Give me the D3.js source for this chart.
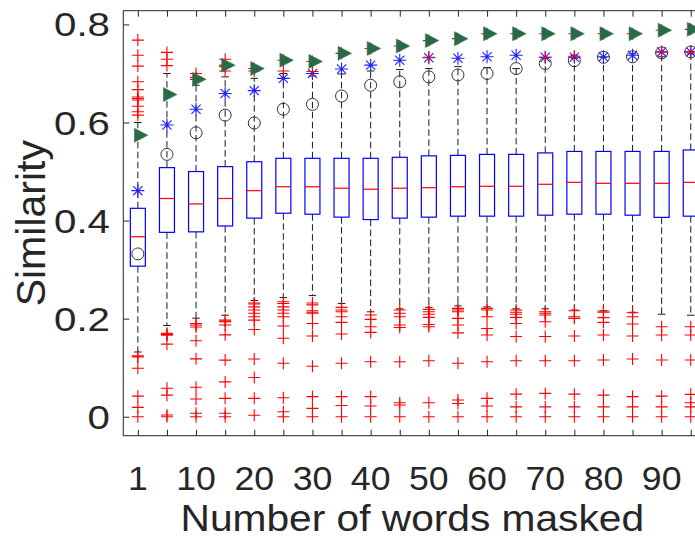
<!DOCTYPE html>
<html>
<head>
<meta charset="utf-8">
<script src="https://cdn.jsdelivr.net/npm/d3@7/dist/d3.min.js"></script>
<style>
  html, body { margin: 0; padding: 0; background: #fff; overflow: hidden; }
  svg { display: block; }
  text { font-family: "Liberation Sans", Arial, Helvetica, sans-serif; fill: #262626; }
</style>
</head>
<body>
<svg id="chart" width="695" height="539"></svg>
<script>
// Number of masked words per group
const groups = ["1","5","10","15","20","25","30","35","40","45","50","55","60","65","70","75","80","85","90","95"];
const tickLabels = ["1","10","20","30","40","50","60","70","80","90"];
const yTicks = [0, 0.2, 0.4, 0.6, 0.8];

// Box statistics per group
const q3  = [0.425,0.508,0.500,0.510,0.520,0.527,0.527,0.527,0.527,0.529,0.532,0.533,0.535,0.535,0.538,0.541,0.541,0.541,0.541,0.544];
const med = [0.367,0.445,0.434,0.445,0.461,0.469,0.469,0.466,0.464,0.466,0.467,0.469,0.470,0.470,0.474,0.478,0.476,0.476,0.476,0.478];
const q1  = [0.307,0.376,0.377,0.389,0.405,0.415,0.413,0.407,0.402,0.405,0.407,0.409,0.409,0.409,0.411,0.413,0.413,0.411,0.4065,0.409];
const whiskerLow  = [0.132,0.186,0.201,0.207,0.237,0.243,0.247,0.231,0.214,0.220,0.223,0.226,0.224,0.220,0.220,0.2175,0.216,0.213,0.209,0.207];
const whiskerHigh = [0.600,0.700,0.676,0.693,0.690,0.700,0.695,0.699,0.705,0.708,0.710,0.714,0.712,0.710,0.731,0.731,0.733,0.740,0.734,0.740];

// Outliers above the upper whisker
const outliersHigh = [
  [0.768,0.737,0.715,0.683,0.667,0.652,0.649,0.646,0.633,0.622,0.615],
  [0.743,0.729,0.716],
  [0.700,0.692,0.688],
  [0.729,0.714,0.705,0.717],
  [0.705,0.710],
  [0.705,0.727],
  [0.704,0.7245],
  [0.741],
  [0.751],
  [0.756],
  [0.733,0.767],
  [0.771],
  [0.781],
  [0.781],
  [0.733,0.781],
  [0.735,0.781],
  [0.781],
  [0.781],
  [0.744,0.788],
  [0.744,0.790]
];

// Outliers below the lower whisker
const outliersLow = [
  [0.124,0.122,0.099,0.042,0.019,0.0],
  [0.170,0.168,0.166,0.148,0.058,0.044,0.0035,0.0],
  [0.190,0.187,0.183,0.155,0.118,0.060,0.036,0.007,0.0],
  [0.197,0.194,0.187,0.167,0.1155,0.071,0.0375,0.007,0.0],
  [0.232,0.230,0.224,0.2175,0.211,0.204,0.197,0.178,0.1176,0.080,0.0375,0.003],
  [0.2345,0.231,0.224,0.2175,0.211,0.204,0.185,0.160,0.109,0.0387,0.010,0.0],
  [0.232,0.228,0.216,0.213,0.211,0.190,0.1645,0.103,0.041,0.017,0.0],
  [0.223,0.2175,0.214,0.204,0.1925,0.1686,0.109,0.041,0.023,0.0],
  [0.2073,0.1986,0.1835,0.172,0.112,0.041,0.022,0.0],
  [0.2175,0.211,0.204,0.187,0.182,0.112,0.0285,0.024,0.0],
  [0.219,0.214,0.209,0.2027,0.188,0.1835,0.114,0.0285,0.0],
  [0.221,0.2175,0.214,0.2006,0.187,0.171,0.109,0.034,0.027,0.0],
  [0.221,0.2175,0.204,0.180,0.1666,0.112,0.0375,0.022,0.0],
  [0.2175,0.213,0.209,0.2027,0.190,0.1635,0.114,0.046,0.020,0.0],
  [0.214,0.211,0.2073,0.1937,0.1635,0.114,0.0476,0.020,0.0],
  [0.216,0.204,0.2006,0.1645,0.114,0.046,0.020,0.0],
  [0.2155,0.213,0.202,0.1925,0.1666,0.1156,0.044,0.020,0.0],
  [0.212,0.204,0.189,0.1645,0.1176,0.041,0.020,0.0],
  [0.1835,0.1666,0.1156,0.042,0.020,0.0],
  [0.1835,0.1666,0.1156,0.0456,0.0285,0.020,0.0]
];

// Reference markers per group
const circleVals   = [0.332,0.535,0.579,0.615,0.599,0.627,0.637,0.654,0.676,0.683,0.693,0.697,0.700,0.710,0.7205,0.726,0.733,0.734,0.742,0.744];
const asteriskVals = [0.461,0.595,0.627,0.659,0.665,0.690,0.700,0.709,0.717,0.727,0.732,0.731,0.734,0.737,0.733,0.733,0.734,0.737,0.744,0.744];
const triangleVals = [0.574,0.657,0.688,0.717,0.710,0.727,0.7245,0.741,0.751,0.756,0.767,0.771,0.781,0.781,0.781,0.781,0.781,0.781,0.788,0.790];

const svg = d3.select("#chart");
const plot = { left: 123.3, right: 705.3, top: 10.7, bottom: 435.7 };

const x = d3.scaleLinear().domain([0.5, groups.length + 0.5]).range([plot.left, plot.right]);
const y = d3.scaleLinear().domain([-0.0387, 0.828]).range([plot.bottom, plot.top]);
const gx = i => x(i + 1);

const boxW = 15, capW = 7.5, mk = 6;
const axisColor = "#262626";

const data = groups.map((g, i) => ({
  i, g, q1: q1[i], med: med[i], q3: q3[i],
  lo: whiskerLow[i], hi: whiskerHigh[i],
  outs: outliersHigh[i].concat(outliersLow[i]),
  circle: circleVals[i], star: asteriskVals[i], tri: triangleVals[i]
}));

const g = svg.append("g");

// Whiskers (dashed) and caps
const wh = g.append("g").attr("stroke", "#1a1a1a").attr("stroke-width", 1).attr("fill", "none");
data.forEach(d => {
  wh.append("line").attr("x1", gx(d.i)).attr("x2", gx(d.i)).attr("y1", y(d.q3)).attr("y2", y(d.hi))
    .attr("stroke-dasharray", "6.5,3.5");
  wh.append("line").attr("x1", gx(d.i)).attr("x2", gx(d.i)).attr("y1", y(d.q1)).attr("y2", y(d.lo))
    .attr("stroke-dasharray", "6.5,3.5");
  wh.append("line").attr("x1", gx(d.i) - capW / 2).attr("x2", gx(d.i) + capW / 2).attr("y1", y(d.hi)).attr("y2", y(d.hi));
  wh.append("line").attr("x1", gx(d.i) - capW / 2).attr("x2", gx(d.i) + capW / 2).attr("y1", y(d.lo)).attr("y2", y(d.lo));
});

// Boxes
g.append("g").selectAll("rect").data(data).join("rect")
  .attr("x", d => gx(d.i) - boxW / 2)
  .attr("y", d => y(d.q3))
  .attr("width", boxW)
  .attr("height", d => y(d.q1) - y(d.q3))
  .attr("fill", "none").attr("stroke", "#0000ff").attr("stroke-width", 1.2);

// Medians
g.append("g").selectAll("line").data(data).join("line")
  .attr("x1", d => gx(d.i) - boxW / 2).attr("x2", d => gx(d.i) + boxW / 2)
  .attr("y1", d => y(d.med)).attr("y2", d => y(d.med))
  .attr("stroke", "#ff0000").attr("stroke-width", 1.2);

// Circles
g.append("g").selectAll("circle").data(data).join("circle")
  .attr("cx", d => gx(d.i)).attr("cy", d => y(d.circle)).attr("r", 6)
  .attr("fill", "none").attr("stroke", "#333").attr("stroke-width", 1);

// Asterisks
const starPath = s => {
  const a = s * 0.7071;
  return `M${-s},0L${s},0M0,${-s}L0,${s}M${-a},${-a}L${a},${a}M${-a},${a}L${a},${-a}`;
};
g.append("g").selectAll("path").data(data).join("path")
  .attr("transform", d => `translate(${gx(d.i)},${y(d.star)})`)
  .attr("d", starPath(6.5))
  .attr("fill", "none").attr("stroke", "#2020ff").attr("stroke-width", 1.1);

// Outliers as red plus signs
const plusPath = `M${-mk},0L${mk},0M0,${-mk}L0,${mk}`;
const outs = data.flatMap(d => d.outs.map(v => ({ i: d.i, v })));
g.append("g").selectAll("path").data(outs).join("path")
  .attr("transform", d => `translate(${gx(d.i)},${y(d.v)})`)
  .attr("d", plusPath)
  .attr("fill", "none").attr("stroke", "#ff0000").attr("stroke-width", 1.1);

// Right-pointing triangles
g.append("g").selectAll("path").data(data).join("path")
  .attr("transform", d => `translate(${gx(d.i)},${y(d.tri)})`)
  .attr("d", "M-3.5,-7L-3.5,7L10,0Z")
  .attr("fill", "#276a45").attr("stroke", "#3d7a58").attr("stroke-width", 0.6);

// Frame
const ax = svg.append("g");
ax.append("rect").attr("x", plot.left).attr("y", plot.top)
  .attr("width", plot.right - plot.left).attr("height", plot.bottom - plot.top)
  .attr("fill", "none").attr("stroke", axisColor).attr("stroke-width", 1);

// Bottom and top ticks at every group
const groupTicks = groups.map((_, i) => i + 1);
const xb = ax.append("g").attr("transform", `translate(0,${plot.bottom})`)
  .call(d3.axisBottom(x).tickValues(groupTicks).tickSize(-6).tickFormat(""));
const xt = ax.append("g").attr("transform", `translate(0,${plot.top})`)
  .call(d3.axisTop(x).tickValues(groupTicks).tickSize(-6).tickFormat(""));
[xb, xt].forEach(s => { s.select(".domain").remove(); s.selectAll("line").attr("stroke", axisColor); });

// Bottom tick labels on the labelled groups only
ax.append("g").selectAll("text").data(tickLabels).join("text")
  .attr("transform", d => `translate(${gx(groups.indexOf(d))},${plot.bottom + 54}) scale(1.08,1)`)
  .attr("text-anchor", "middle").attr("font-size", 33)
  .text(d => d);

// Left axis ticks
const yg = ax.append("g").attr("transform", `translate(${plot.left},0)`)
  .call(d3.axisLeft(y).tickValues(yTicks).tickSize(-6).tickFormat(""));
yg.select(".domain").remove();
yg.selectAll("line").attr("stroke", axisColor);

// Left tick labels, right-aligned
ax.append("g").selectAll("text").data(yTicks).join("text")
  .attr("transform", d => `translate(110,${y(d) + 12}) scale(1.22,1)`)
  .attr("text-anchor", "end").attr("font-size", 33)
  .text(d => d === 0 ? "0" : d3.format(".1f")(d));

// Axis titles
svg.append("text")
  .attr("transform", `translate(${(plot.left + plot.right) / 2 - 2},530.8) scale(1.1,1)`)
  .attr("text-anchor", "middle").attr("font-size", 37)
  .text("Number of words masked");
svg.append("text")
  .attr("transform", `translate(45,${(plot.top + plot.bottom) / 2}) rotate(-90)`)
  .attr("text-anchor", "middle").attr("font-size", 41)
  .text("Similarity");
</script>
</body>
</html>
